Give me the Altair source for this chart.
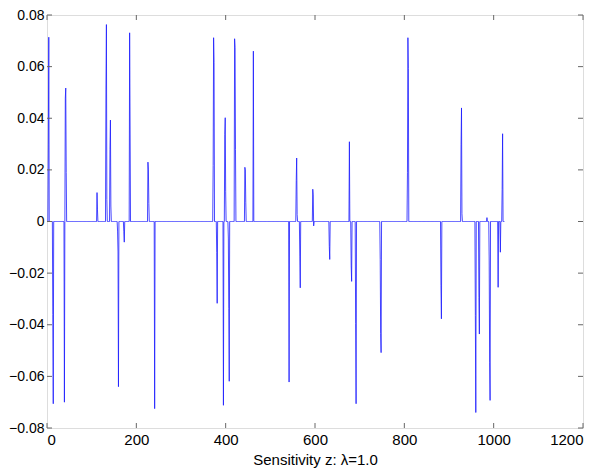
import altair as alt
import pandas as pd
import numpy as np

# Spike samples (index, value); every other sample is zero
spike_idx = [3, 4, 13, 14, 39, 41, 42, 43, 112, 113, 132, 133, 134, 141, 142, 143,
             158, 159, 160, 172, 173, 185, 186, 226, 227, 228, 241,
             372, 373, 374, 380, 381, 395, 398, 399, 400, 406, 407, 408,
             420, 421, 422, 443, 444, 445, 462, 542, 558, 559, 560, 566, 567,
             595, 596, 597, 632, 633, 677, 681, 682, 691, 692, 746, 747, 748,
             807, 808, 809, 882, 883, 927, 928, 929, 959, 960, 967, 968, 985,
             990, 991, 992, 1010, 1015, 1019, 1020]
spike_val = [0.030, 0.0714, -0.036, -0.0706, -0.070, 0.0478, 0.0517, 0.019, 0.0112, 0.0045,
             0.0513, 0.0763, 0.0085, 0.0278, 0.0393, 0.006,
             -0.0037, -0.0118, -0.064, -0.004, -0.008, 0.0731, 0.037, 0.023, 0.020, 0.007, -0.0725,
             0.0217, 0.0712, 0.0616, -0.0121, -0.0317, -0.0712, 0.0338, 0.0402, 0.0115,
             -0.0064, -0.0338, -0.0619,
             0.0708, 0.0674, 0.0278, 0.021, 0.020, 0.0075, 0.066, -0.0622, 0.0159, 0.0246, 0.0027,
             -0.0134, -0.0257,
             0.0125, 0.0103, -0.0017, -0.0096, -0.0147, 0.0309, -0.0172, -0.0232, -0.0396, -0.0706,
             -0.0147, -0.0434, -0.0508,
             0.0191, 0.0712, 0.0593, -0.0249, -0.0377, 0.0297, 0.044, 0.003, -0.0364, -0.074,
             -0.0294, -0.0436, 0.0015,
             -0.0153, -0.0545, -0.0693, -0.0255, -0.0119, 0.0124, 0.034]
n_samples = 1024

x_ticks = [0, 200, 400, 600, 800, 1000, 1200]
y_ticks = [-0.08, -0.06, -0.04, -0.02, 0, 0.02, 0.04, 0.06, 0.08]

signal = np.zeros(n_samples)
for i, v in zip(spike_idx, spike_val):
    signal[i - 1] = v
df = pd.DataFrame({"i": np.arange(1, n_samples + 1), "z": signal})
xt = pd.DataFrame({"t": x_ticks})
yt = pd.DataFrame({"t": y_ticks})

W, H, TK = 536, 413, 5
FONT = "Liberation Sans"
GRAY = "#666666"
ylab = "datum.value == 0 ? '0' : format(datum.value, '.2f')"

xs = alt.Scale(domain=[0, 1200], nice=False, zero=False)
ys = alt.Scale(domain=[-0.08, 0.08], nice=False, zero=False)

main = alt.Chart(df).mark_line(color="#1a1aff", strokeWidth=0.8, clip=True).encode(
    x=alt.X("i:Q", scale=xs, axis=alt.Axis(orient="bottom", values=x_ticks, format="d",
                                           grid=False, domain=False, ticks=False,
                                           labelFont=FONT, labelFontSize=15, labelColor="black",
                                           labelPadding=4,
                                           title="Sensitivity z: λ=1.0", titleFont=FONT,
                                           titleFontSize=15, titleFontWeight="normal",
                                           titlePadding=5, titleColor="black")),
    y=alt.Y("z:Q", scale=ys, axis=alt.Axis(orient="left", values=y_ticks, labelExpr=ylab,
                                           grid=False, domain=False, ticks=False,
                                           labelFont=FONT, labelFontSize=14, labelColor="black",
                                           labelPadding=3, title=None)),
)

rule = dict(color=GRAY, strokeWidth=1)
tick_bottom = alt.Chart(xt).mark_rule(**rule).encode(
    x=alt.X("t:Q", scale=xs), y=alt.value(H - TK), y2=alt.value(H))
tick_top = alt.Chart(xt).mark_rule(**rule).encode(
    x=alt.X("t:Q", scale=xs), y=alt.value(0), y2=alt.value(TK))
tick_left = alt.Chart(yt).mark_rule(**rule).encode(
    y=alt.Y("t:Q", scale=ys), x=alt.value(0), x2=alt.value(TK))
tick_right = alt.Chart(yt).mark_rule(**rule).encode(
    y=alt.Y("t:Q", scale=ys), x=alt.value(W - TK), x2=alt.value(W))

chart = alt.layer(main, tick_bottom, tick_top, tick_left, tick_right).properties(
    width=W, height=H,
    autosize=alt.AutoSizeParams(type="none"),
    padding={"left": 39, "top": 7, "right": 13, "bottom": 44},
).configure_view(stroke=GRAY, strokeWidth=1).configure(background="white")

chart.save("out.html", embed_options={"renderer": "svg", "actions": False})
